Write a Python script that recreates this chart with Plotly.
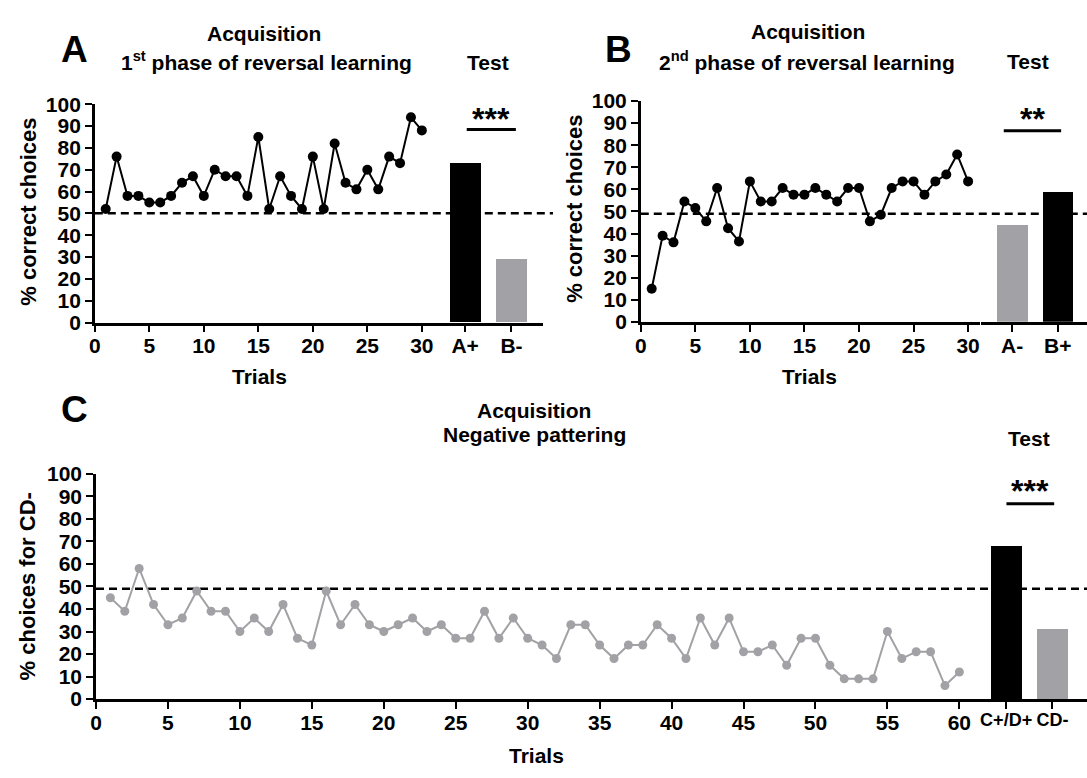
import plotly.graph_objects as go

# ---------------- data ----------------
trials_a = list(range(1, 31))
acq_a = [52, 76, 58, 58, 55, 55, 58, 64, 67, 58, 70, 67, 67, 58, 85,
         52, 67, 58, 52, 76, 52, 82, 64, 61, 70, 61, 76, 73, 94, 88]
test_cats_a = ["A+", "B-"]
test_a = [73, 29]

trials_b = list(range(1, 31))
acq_b = [15, 39, 36, 54.5, 51.5, 45.5, 60.6, 42.4, 36.4, 63.6, 54.5, 54.5, 60.6, 57.6, 57.6,
         60.6, 57.6, 54.5, 60.6, 60.6, 45.5, 48.5, 60.6, 63.6, 63.6, 57.6, 63.6, 66.7, 75.8, 63.6]
test_cats_b = ["A-", "B+"]
test_b = [44, 59]

trials_c = list(range(1, 61))
acq_c = [45, 39, 58, 42, 33, 36, 48, 39, 39, 30, 36, 30, 42, 27, 24,
         48, 33, 42, 33, 30, 33, 36, 30, 33, 27, 27, 39, 27, 36, 27,
         24, 18, 33, 33, 24, 18, 24, 24, 33, 27, 18, 36, 24, 36, 21,
         21, 24, 15, 27, 27, 15, 9, 9, 9, 30, 18, 21, 21, 6, 12]
test_cats_c = ["C+/D+", "CD-"]
test_c = [68, 31]

chance_a = 50
chance_b = 49
chance_c = 49

W, H = 1087, 778
BLACK = "#000000"
GREY = "#a2a2a6"
FONT = "Liberation Sans, Arial, sans-serif"


def px(x):
    return x / W


def py(y):
    return 1 - y / H


fig = go.Figure()

# Panel A
fig.add_trace(go.Scatter(x=trials_a, y=acq_a, mode="lines+markers", xaxis="x", yaxis="y",
                         line=dict(color=BLACK, width=2), marker=dict(color=BLACK, size=10),
                         showlegend=False, cliponaxis=False))
fig.add_trace(go.Bar(x=[0, 1], y=test_a, xaxis="x2", yaxis="y", width=0.67,
                     marker=dict(color=[BLACK, GREY], line=dict(width=0)), showlegend=False))
# Panel B
fig.add_trace(go.Scatter(x=trials_b, y=acq_b, mode="lines+markers", xaxis="x3", yaxis="y2",
                         line=dict(color=BLACK, width=2), marker=dict(color=BLACK, size=10),
                         showlegend=False, cliponaxis=False))
fig.add_trace(go.Bar(x=[0, 1], y=test_b, xaxis="x4", yaxis="y2", width=0.67,
                     marker=dict(color=[GREY, BLACK], line=dict(width=0)), showlegend=False))
# Panel C
fig.add_trace(go.Scatter(x=trials_c, y=acq_c, mode="lines+markers", xaxis="x5", yaxis="y3",
                         line=dict(color=GREY, width=2), marker=dict(color=GREY, size=9),
                         showlegend=False, cliponaxis=False))
fig.add_trace(go.Bar(x=[0, 1], y=test_c, xaxis="x6", yaxis="y3", width=0.67,
                     marker=dict(color=[BLACK, GREY], line=dict(width=0)), showlegend=False))

tickfont = dict(family=FONT, size=21, color=BLACK, weight="bold")
axis_common = dict(showline=True, linecolor=BLACK, linewidth=2.5, ticks="outside",
                   ticklen=7, tickwidth=2, tickcolor=BLACK, showgrid=False, zeroline=False,
                   fixedrange=True, tickangle=0)
xcommon = dict(axis_common, ticklabelstandoff=-4)

yticks = list(range(0, 101, 10))

layout = dict(
    width=W, height=H, margin=dict(l=0, r=0, t=0, b=0),
    paper_bgcolor="white", plot_bgcolor="rgba(0,0,0,0)",
    font=dict(family=FONT, color=BLACK),
    bargap=0,
    xaxis=dict(domain=[px(89.3), px(432.4)], range=[0, 31.3], anchor="y",
               tickvals=list(range(0, 31, 5)), tickfont=tickfont, **xcommon),
    xaxis2=dict(domain=[px(430), px(540)], range=[-0.68, 1.68], anchor="y",
                tickvals=[0, 1], ticktext=test_cats_a, tickfont=tickfont, **xcommon),
    yaxis=dict(domain=[py(320), py(95)], range=[0, 100], anchor="x",
               tickvals=yticks, tickfont=tickfont, **axis_common),
    xaxis3=dict(domain=[px(638.3), px(979.5)], range=[0, 31.1], anchor="y2",
                tickvals=list(range(0, 31, 5)), tickfont=tickfont, **xcommon),
    xaxis4=dict(domain=[px(980), 1.0], range=[-0.69, 1.64], anchor="y2",
                tickvals=[0, 1], ticktext=test_cats_b, tickfont=tickfont, **xcommon),
    yaxis2=dict(domain=[py(319.3), py(91.7)], range=[0, 100], anchor="x3",
                tickvals=yticks, tickfont=tickfont, **axis_common),
    xaxis5=dict(domain=[px(90.5), px(975)], range=[0, 61.13], anchor="y3",
                tickvals=list(range(0, 61, 5)), tickfont=tickfont, **xcommon),
    xaxis6=dict(domain=[px(974), 1.0], range=[-0.68, 1.745], anchor="y3",
                tickvals=[0, 1], ticktext=test_cats_c,
                tickfont=dict(tickfont, size=18), **xcommon),
    yaxis3=dict(domain=[py(708), py(476)], range=[0, 100], anchor="x5",
                tickvals=yticks, tickfont=tickfont, **axis_common),
)
fig.update_layout(**layout)

# chance lines
dash = dict(color=BLACK, width=2.5, dash="8px,5px")
fig.add_shape(type="line", xref="paper", yref="y", x0=px(89.3), x1=px(550),
              y0=chance_a, y1=chance_a, line=dash, layer="below")
fig.add_shape(type="line", xref="paper", yref="y2", x0=px(638.3), x1=1.0,
              y0=chance_b, y1=chance_b, line=dash, layer="below")
fig.add_shape(type="line", xref="paper", yref="y3", x0=px(90.5), x1=1.0,
              y0=chance_c, y1=chance_c, line=dash, layer="below")

# significance bars
for (x0, x1, yy) in [(463.3, 512.7, 121), (1003.3, 1061, 122.3), (1006, 1054, 506.7)]:
    fig.add_shape(type="line", xref="paper", yref="paper", x0=px(x0), x1=px(x1),
                  y0=py(yy), y1=py(yy), line=dict(color=BLACK, width=3))


def text(t, x, y, size=21, angle=0, weight="bold"):
    fig.add_annotation(text=t, x=px(x), y=py(y), xref="paper", yref="paper",
                       xanchor="center", yanchor="middle", showarrow=False, textangle=angle,
                       font=dict(family=FONT, size=size, color=BLACK, weight=weight))


# panel letters
text("A", 69, 39, size=37)
text("B", 616, 39, size=37)
text("C", 69, 410, size=37)

# titles
text("Acquisition", 259, 22)
text("1<sup>st</sup> phase of reversal learning", 262, 51)
text("Test", 485, 52)
text("Acquisition", 806, 20)
text("2<sup>nd</sup> phase of reversal learning", 805, 51)
text("Test", 1028, 51)
text("Acquisition", 531, 411)
text("Negative pattering", 531, 435)
text("Test", 1029, 440)

# stars
text("***", 488, 110, size=32)
text("**", 1032, 110, size=32)
text("***", 1030, 494, size=32)

# axis titles
text("% correct choices", 23, 206, size=22, angle=-90)
text("% correct choices", 572, 203, size=22, angle=-90)
text("% choices for CD-", 22, 592, size=22, angle=-90)
text("Trials", 255, 376)
text("Trials", 808, 376)
text("Trials", 533, 766)

fig.write_html("out.html")
